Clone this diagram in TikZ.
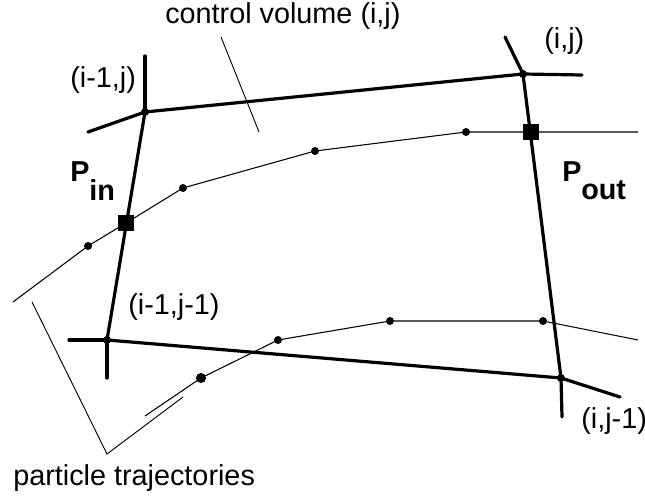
\documentclass[tikz,border=0pt]{standalone}
\usepackage{fontspec}
\setmainfont{Liberation Sans}
\usetikzlibrary{positioning, calc}

\begin{document}
\begin{tikzpicture}[
        x=0.75pt, y=-0.75pt,
        font=\fontsize{21.6pt}{24pt}\selectfont,
        gridline/.style={draw=black, line width=2.4pt, line cap=round},
        trajline/.style={draw=black, line width=0.8pt},
        leader/.style={draw=black, line width=0.7pt},
        corner/.style={circle, fill=black, minimum size=6pt, inner sep=0pt},
        pdot/.style={circle, fill=black, minimum size=6pt, inner sep=0pt},
        pbig/.style={circle, fill=black, minimum size=7.5pt, inner sep=0pt},
        psquare/.style={rectangle, fill=black, minimum size=11.5pt, inner sep=0pt},
        lbl/.style={inner sep=0pt, anchor=base west},
        flux/.style={lbl, font=\fontsize{21.6pt}{24pt}\selectfont\bfseries},
    ]

    \useasboundingbox (0, 0) rectangle (645, 498);

    \node[corner] (cNW) at (145, 112) {};
    \node[corner] (cNE) at (523, 74) {};
    \node[corner] (cSW) at (107, 340) {};
    \node[corner] (cSE) at (561, 378) {};

    \coordinate (nwUp) at (145, 56);
    \coordinate (nwLeft) at (88, 132);
    \coordinate (neUp) at (505, 37);
    \coordinate (neRight) at (582, 75);
    \coordinate (swLeft) at (69, 340);
    \coordinate (swDown) at (107, 378);
    \coordinate (seRight) at (620, 397);
    \coordinate (seDown) at (562, 417);

    \draw[gridline] (cNW.center) -- (cNE.center);
    \draw[gridline] (cNE.center) -- (cSE.center);
    \draw[gridline] (cSE.center) -- (cSW.center);
    \draw[gridline] (cSW.center) -- (cNW.center);
    \draw[gridline] (cNW.center) -- (nwUp);
    \draw[gridline] (cNW.center) -- (nwLeft);
    \draw[gridline] (cNE.center) -- (neUp);
    \draw[gridline] (cNE.center) -- (neRight);
    \draw[gridline] (cSW.center) -- (swLeft);
    \draw[gridline] (cSW.center) -- (swDown);
    \draw[gridline] (cSE.center) -- (seRight);
    \draw[gridline] (cSE.center) -- (seDown);

    \coordinate (tA0) at (13, 302);
    \node[pdot] (tA1) at (88, 246) {};
    \node[psquare] (sIn) at (126, 223) {};
    \node[pdot] (tA2) at (183, 188) {};
    \node[pdot] (tA3) at (315, 151) {};
    \node[pdot] (tA4) at (466, 132) {};
    \node[psquare] (sOut) at (531, 132) {};
    \coordinate (tA5) at (638, 132);

    \draw[trajline] (tA0) -- (tA1.center) -- (sIn.center) -- (tA2.center)
        -- (tA3.center) -- (tA4.center) -- (sOut.center) -- (tA5);

    \coordinate (tB0) at (145, 416);
    \node[pbig] (tB1) at (201, 378) {};
    \node[pdot] (tB2) at (278, 340) {};
    \node[pdot] (tB3) at (390, 321) {};
    \node[pdot] (tB4) at (543, 321) {};
    \coordinate (tB5) at (638, 340);

    \draw[trajline] (tB0) -- (tB1.center) -- (tB2.center) -- (tB3.center)
        -- (tB4.center) -- (tB5);

    \coordinate (cvTop) at (221, 37);
    \coordinate (cvEnd) at (259, 132);
    \draw[leader] (cvTop) -- (cvEnd);

    \coordinate (brA) at (32, 302);
    \coordinate (brB) at (107, 454);
    \coordinate (brC) at (183, 397);
    \draw[leader] (brA) -- (brB) -- (brC);

    \node[lbl] (cvLabel) at (165, 24) {control volume (i,j)};
    \node[lbl] (nwLabel) at (70, 88) {(i-1,j)};
    \node[lbl] (neLabel) at (544, 49) {(i,j)};
    \node[lbl] (swLabel) at (128, 315) {(i-1,j-1)};
    \node[lbl] (seLabel) at (581, 428) {(i,j-1)};
    \node[lbl] (ptLabel) at (13, 485) {particle trajectories};

    \node[flux] (pIn) at (70, 182) {P};
    \node[flux] (pInSub) at (89, 201) {in};
    \node[flux] (pOut) at (562, 182) {P};
    \node[flux] (pOutSub) at (581, 200) {out};
\end{tikzpicture}
\end{document}
